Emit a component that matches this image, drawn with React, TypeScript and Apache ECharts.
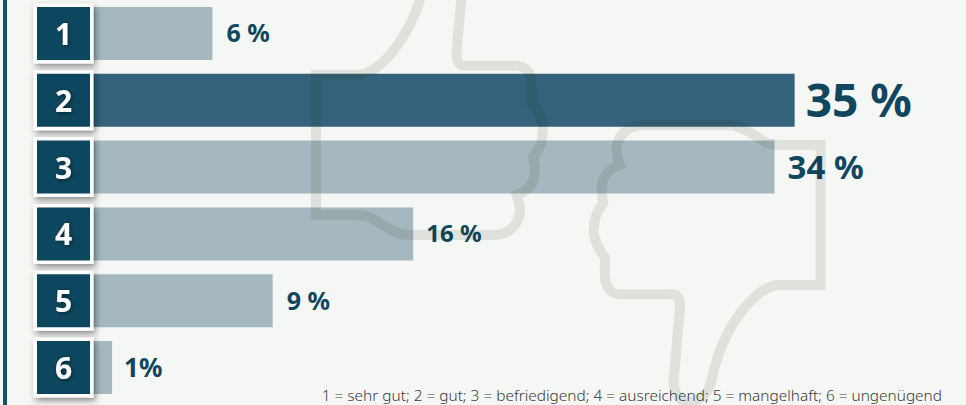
import React, { useEffect, useRef } from "react";
import * as echarts from "echarts";

const categories = ["1", "2", "3", "4", "5", "6"];
const values = [6, 35, 34, 16, 9, 1];
const valueLabels = ["6 %", "35 %", "34 %", "16 %", "9 %", "1%"];
const labelSizes = [25, 46, 33, 24, 25, 26];
const labelGaps = [14, 11, 13, 13, 14, 12];
const footnote = "1 = sehr gut; 2 = gut; 3 = befriedigend; 4 = ausreichend; 5 = mangelhaft; 6 = ungenügend";
const highlighted = 1;

const FONT = "'Noto Sans', sans-serif";
const DARK = "#10465e";
const BG = "#f5f7f5";

const thumbPath =
  "M316 75 L360 75 C385 70 415 30 425 -20 C428 -36 440 -42 448 -42 C458 -42 463 -32 463 -20 " +
  "L456.7 50 C456 60 458 65.7 465 65.7 L516.7 65.7 C526 65.7 531.7 74 531.7 85 L531.7 103 " +
  "C538 110 543 122 543 130 C543 140 539 150 533.3 156.7 C535 165 535 172 534 178 C532 187 526 191 516.7 195 " +
  "C520 203 520 208 520 213 C518 226 507 235 493 235 L410 235 C395 235 385 226 371.7 218 C368 216 362 215 350 215 L316 215 Z";

echarts.graphic.registerShape("thumb", echarts.graphic.extendPath(thumbPath, {}));

export default function App() {
  const ref = useRef<HTMLDivElement>(null);
  useEffect(() => {
    document.body.style.margin = "0";
    const chart = echarts.init(ref.current!, null, { renderer: "svg" });
    const thumbStyle = { fill: "none", stroke: "rgba(25,37,0,0.1)", lineWidth: 10 };
    chart.setOption({
      animation: false,
      backgroundColor: BG,
      grid: { left: 92, top: 0, width: 803, height: 401 },
      title: {
        text: footnote,
        right: 24,
        top: 385,
        padding: 0,
        textStyle: { fontFamily: FONT, fontSize: 15.4, fontWeight: 300, color: "#3a3a3a", lineHeight: 20 },
      },
      xAxis: { type: "value", min: 0, max: 40, show: false },
      yAxis: {
        type: "category",
        inverse: true,
        data: categories,
        z: 10,
        axisLine: { show: false },
        axisTick: { show: false },
        axisLabel: {
          margin: 28.5,
          width: 53,
          height: 53,
          lineHeight: 53,
          align: "center",
          verticalAlign: "middle",
          fontFamily: FONT,
          fontSize: 30,
          fontWeight: 700,
          color: "#fff",
          backgroundColor: DARK,
          borderColor: "#fff",
          borderWidth: 3.5,
          shadowColor: "rgba(0,0,0,0.45)",
          shadowBlur: 6,
          shadowOffsetX: 2,
          shadowOffsetY: 3,
          textShadowColor: "rgba(0,0,0,0.5)",
          textShadowBlur: 4,
          textShadowOffsetX: 1,
          textShadowOffsetY: 1,
        },
      },
      series: [
        {
          type: "bar",
          barWidth: 53,
          z: 2,
          data: values.map((v, i) => ({
            value: v,
            itemStyle: { color: i === highlighted ? "#33627a" : "#a5b8bf" },
            label: {
              show: true,
              position: "right",
              distance: labelGaps[i],
              offset: [0, -1],
              formatter: valueLabels[i],
              fontFamily: FONT,
              fontWeight: 700,
              fontSize: labelSizes[i],
              color: DARK,
            },
          })),
        },
      ],
      graphic: [
        { type: "rect", shape: { x: 3, y: 0, width: 4, height: 405 }, style: { fill: "#1a5068" }, z: 5 },
        { type: "thumb", x: 0, y: 0, style: thumbStyle, z: 5 },
        { type: "thumb", x: 1136.6, y: 360, rotation: Math.PI, style: thumbStyle, z: 5 },
      ],
    });
    return () => chart.dispose();
  }, []);
  return <div ref={ref} style={{ width: 966, height: 405 }} />;
}
